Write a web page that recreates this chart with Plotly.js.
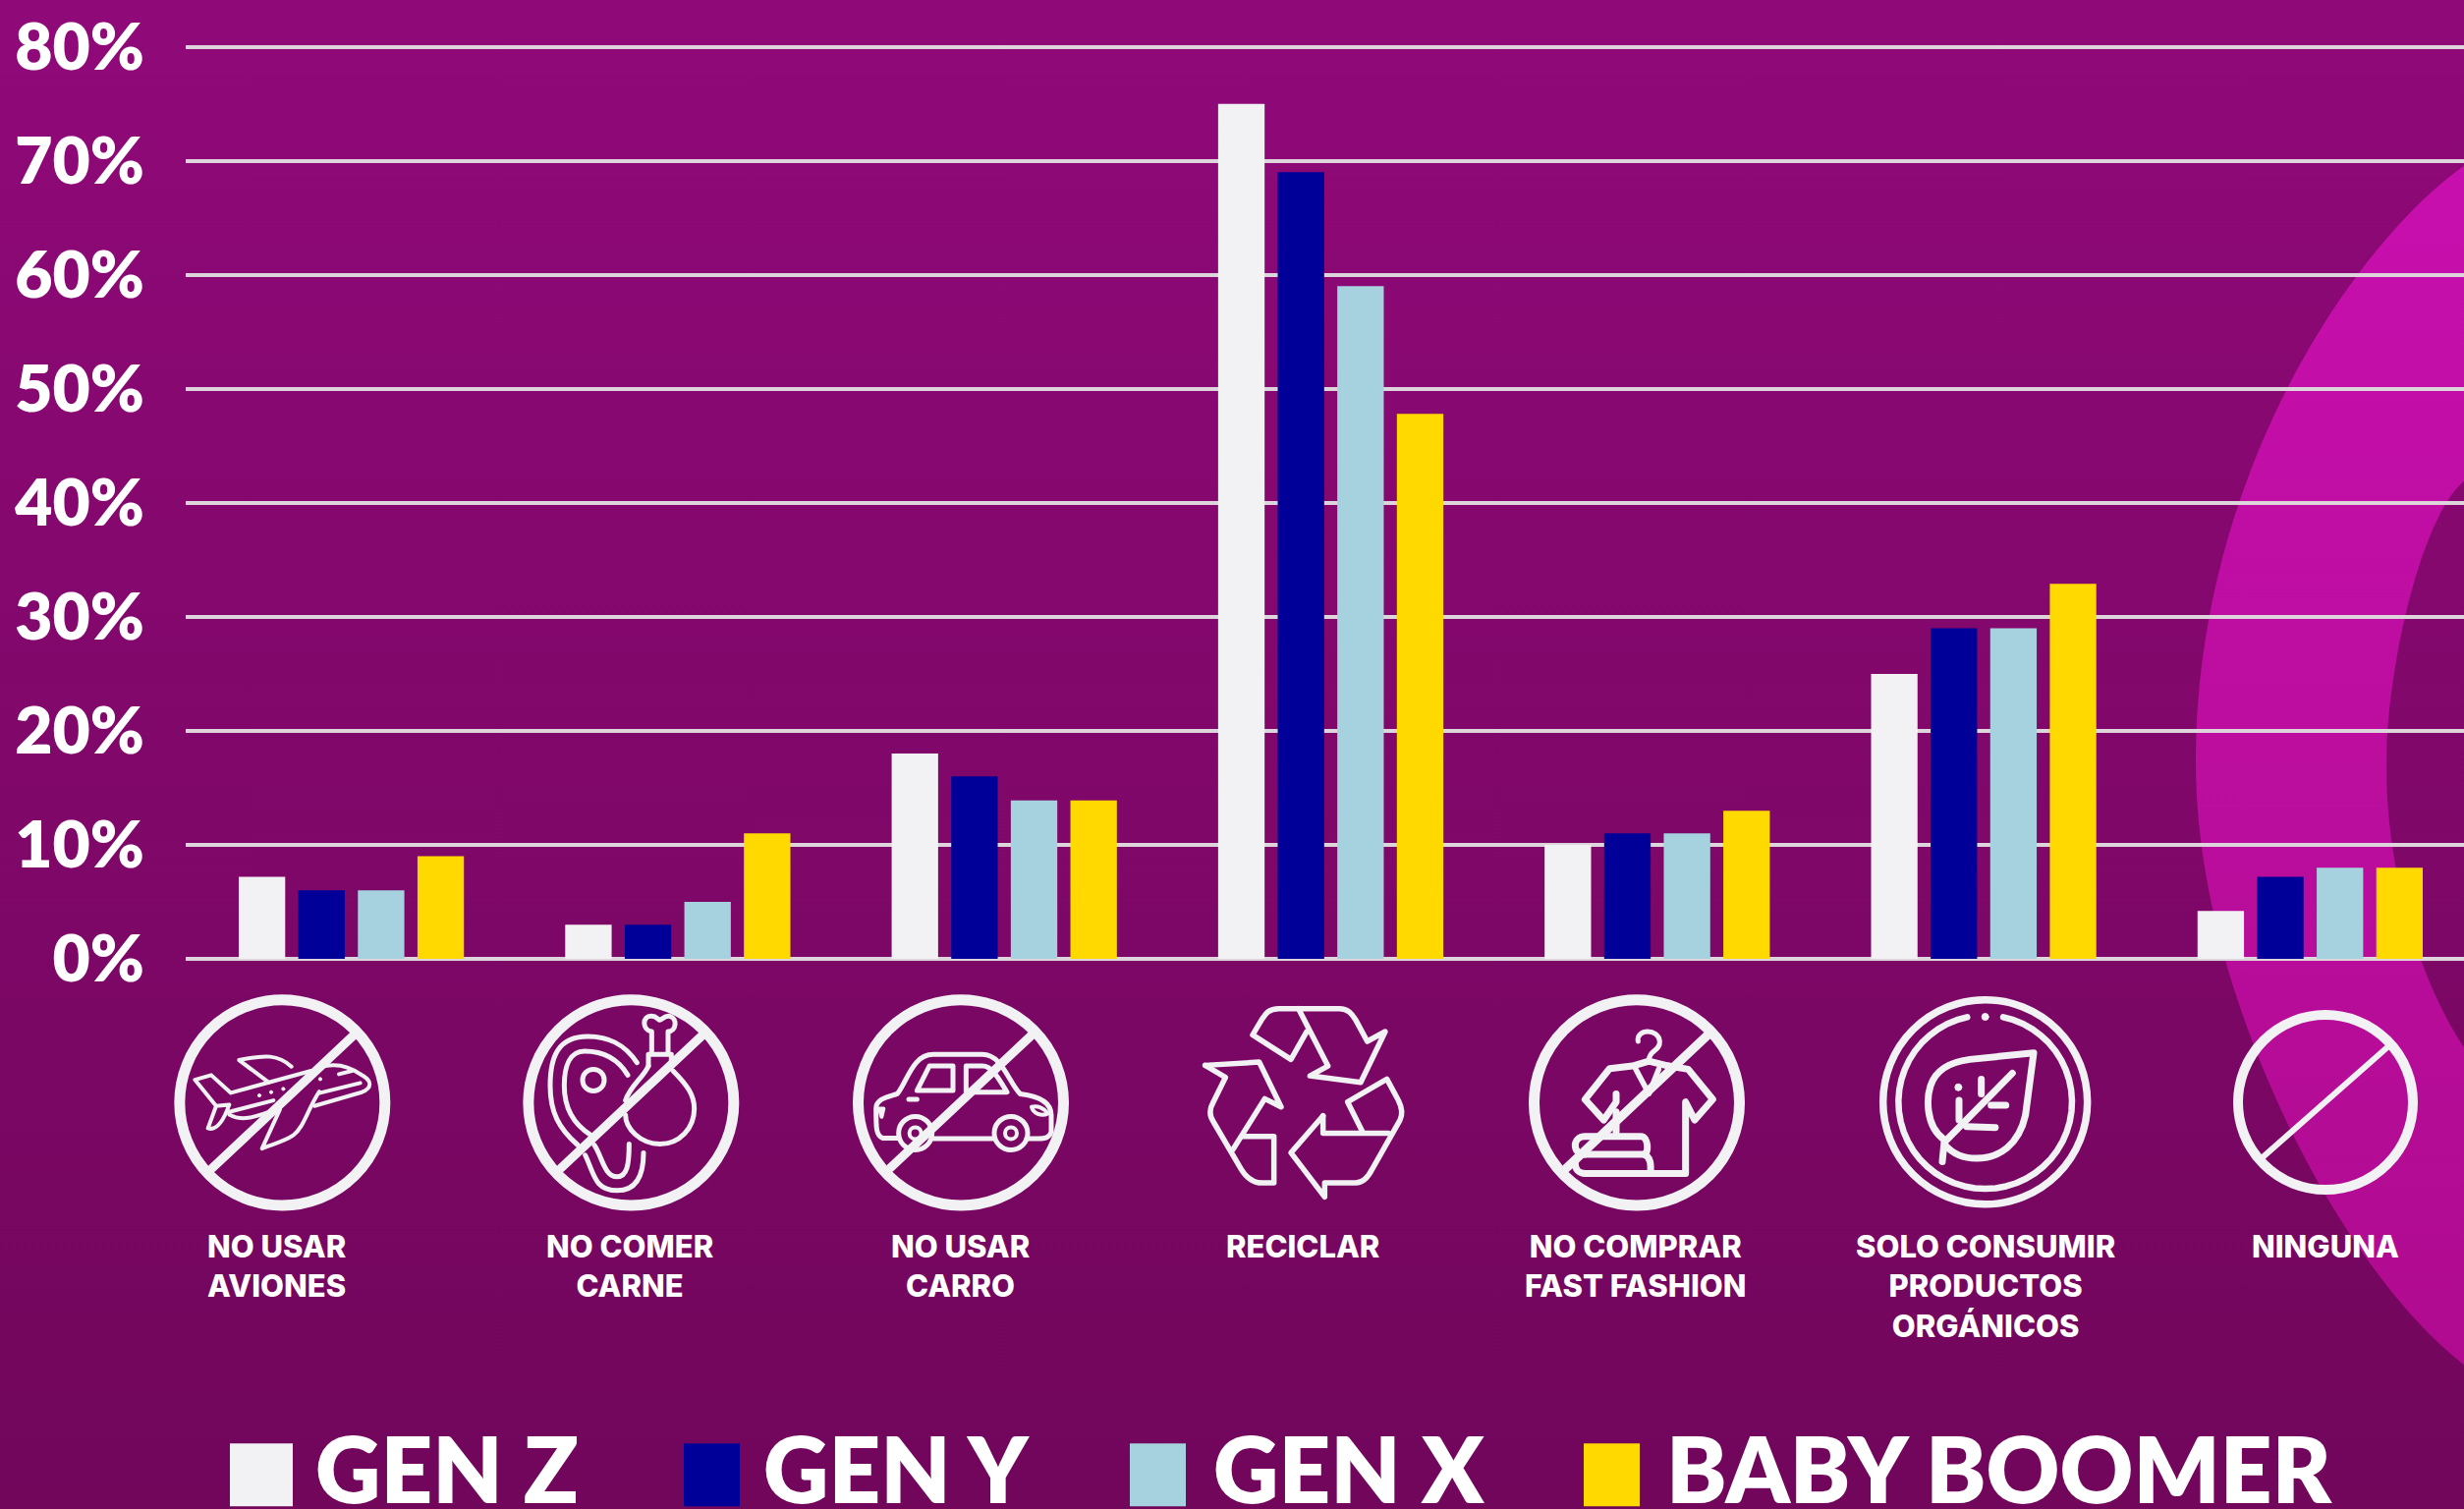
<!DOCTYPE html>
<html><head><meta charset="utf-8">
<script src="https://cdn.plot.ly/plotly-3.0.1.min.js"></script>
<style>
html,body{margin:0;padding:0;background:#7f0768;width:2508px;height:1536px;overflow:hidden}
#chart{width:2508px;height:1536px}
.shapelayer path{stroke-linejoin:round;stroke-linecap:round}
</style></head><body><div id="chart"></div>
<script>
const categories = ["NO USAR<br>AVIONES","NO COMER<br>CARNE","NO USAR<br>CARRO","RECICLAR","NO COMPRAR<br>FAST FASHION","SOLO CONSUMIR<br>PRODUCTOS<br>ORGÁNICOS","NINGUNA"];
const seriesNames = ["GEN Z","GEN Y","GEN X","BABY BOOMER"];
const seriesColors = ["#F2F2F4","#000099","#A5D2DE","#FFD900"];
const genZ = [7.2,3,18,75,10,25,4.2];
const genY = [6,3,16,69,11,29,7.2];
const genX = [6,5,13.9,59,11,29,8];
const babyBoomer = [9,11,13.9,47.8,13,32.9,8];
const yTicks = [0,10,20,30,40,50,60,70,80];
const yTickLabels = ["0%","10%","20%","30%","40%","50%","60%","70%","80%"];

const W=2508,H=1536,L=189,T=36.4,B=976,PW=W-L,PH=B-T;
const fx=x=>(x-L)/PW, fy=y=>(B-y)/PH;
const ICON="#F2F2F4";
const shapes=[], annotations=[];

function pen(ox,oy,d,w,fill){
  const p=d.replace(/(-?[\d.]+),(-?[\d.]+)/g,(m,a,b)=>fx(ox+a/3)+","+fy(oy+b/3));
  shapes.push({type:"path",xref:"paper",yref:"paper",layer:"above",path:p,
    line:{color:ICON,width:w},fillcolor:fill||"rgba(0,0,0,0)"});
}
function disc(ox,oy,cx,cy,r,w,filled){
  const X=ox+cx/3,Y=oy+cy/3;
  shapes.push({type:"circle",xref:"paper",yref:"paper",layer:"above",
    x0:fx(X-r),x1:fx(X+r),y0:fy(Y+r),y1:fy(Y-r),
    line:{color:ICON,width:w},fillcolor:filled?ICON:"rgba(0,0,0,0)"});
}
function arc(cx,cy,r,a0,a1){
  let s="";const n=48;
  for(let i=0;i<=n;i++){const a=(a0+(a1-a0)*i/n)*Math.PI/180;
    s+=(i?" L ":"M ")+(cx+r*Math.sin(a)).toFixed(1)+","+(cy-r*Math.cos(a)).toFixed(1);}
  return s;
}
const slash="M 568,148 L 138,552";

// plane
{const o=[170,1005];
 disc(...o,352,352,104.5,11);
 const w=4;
 pen(...o,"M 440,255 L 195,322 L 135,268 L 85,282 L 150,362 L 125,430 C 150,438 170,415 190,358 L 150,362",w);
 pen(...o,"M 190,388 C 225,408 260,402 345,368",w);
 pen(...o,"M 190,380 L 325,345",w);
 pen(...o,"M 450,250 C 510,225 555,240 590,265 C 630,285 625,308 595,320 L 450,362",w);
 pen(...o,"M 525,265 L 565,255",w);
 pen(...o,"M 468,322 L 590,292",w);
 pen(...o,"M 465,318 C 430,370 420,425 385,452 C 360,470 320,480 290,492 L 345,372",w);
 pen(...o,"M 380,242 C 340,205 300,205 220,222 L 310,290",w);
 [[282,330],[318,320],[355,310],[468,280]].forEach(c=>disc(...o,c[0],c[1],1.6,1,true));
 pen(...o,slash,9);
}
// meat
{const o=[525,1005];
 disc(...o,352,352,104.5,11);
 const w=5;
 pen(...o,"M 370,230 C 330,170 280,150 220,150 C 130,150 105,210 105,300 C 105,380 130,430 190,482",w);
 pen(...o,"M 212,512 C 240,570 240,620 310,620 C 370,620 390,570 390,505",w);
 pen(...o,"M 342,268 C 310,215 260,195 210,195 C 165,195 148,240 148,300 C 148,370 180,420 228,450",w);
 pen(...o,"M 240,482 C 265,520 270,578 310,578 C 340,578 346,540 346,478",w);
 disc(...o,237,283,11,5);
 pen(...o,"M 415,198 L 415,135 C 385,130 385,85 415,88 C 430,88 435,100 440,100 C 445,100 455,85 470,88 C 495,95 490,135 465,135 L 465,198",w);
 pen(...o,"M 405,240 L 405,205 L 475,205 L 475,225",w);
 pen(...o,"M 405,240 C 390,275 350,300 335,345",w);
 pen(...o,"M 480,255 C 525,300 545,330 545,370 C 545,430 500,478 440,478 C 380,478 335,430 335,390",w);
 pen(...o,slash,9);
}
// car
{const o=[860,1005];
 disc(...o,354,352,104.5,11);
 const w=5;
 pen(...o,"M 165,460 L 115,460 C 95,452 95,430 95,370 C 95,340 130,335 160,325 C 190,290 205,205 270,205 L 420,205 C 480,205 500,290 535,325 C 580,330 630,345 630,390 L 630,440 C 625,460 610,462 590,462 L 555,462",w);
 pen(...o,"M 270,462 L 450,462",w);
 disc(...o,215,445,17,5); disc(...o,215,445,6,4);
 disc(...o,507,445,17,5); disc(...o,507,445,6,4);
 pen(...o,"M 220,315 L 258,240 L 330,240 L 330,315 Z",w);
 pen(...o,"M 370,240 L 420,240 C 450,240 470,280 495,320 L 370,320 Z",w);
 pen(...o,"M 195,342 L 220,342",w);
 pen(...o,"M 105,370 L 118,370 L 112,395 Z",w-1);
 pen(...o,"M 570,365 C 590,360 610,370 620,385 C 600,395 575,385 570,365",w-1);
 pen(...o,slash,9);
}
// recycle
{const o=[1210,1005];
 const w=5.5;
 pen(...o,"M 335,65 L 460,65 C 490,65 500,85 510,100 L 545,165 L 600,135 L 525,290 L 370,270 L 425,240 L 335,65",w);
 pen(...o,"M 335,65 L 275,65 C 245,65 235,80 225,95 L 195,145 L 312,220 L 360,135",w);
 pen(...o,"M 50,238 L 215,228 L 282,365 L 232,340 L 135,495",w);
 pen(...o,"M 50,238 L 112,275 L 75,350 C 60,375 65,395 75,410 L 160,555 C 175,580 195,597 225,597 L 260,597 L 260,455 L 165,455",w);
 pen(...o,"M 410,392 L 312,505 L 415,640 L 415,597 L 510,597 C 535,597 550,575 560,555 L 645,405 C 655,385 650,365 640,345 L 605,280 L 485,350 L 530,440",w);
 pen(...o,"M 410,392 L 410,445 L 610,445",w);
}
// clothes
{const o=[1550,1005];
 disc(...o,348,352,104.5,11);
 const w=7;
 pen(...o,"M 352,165 C 345,125 415,125 418,165 C 420,195 385,190 385,225",5);
 pen(...o,"M 445,240 L 385,225 L 335,240 L 265,248 L 190,342 L 247,405 L 285,350 L 285,325",w);
 pen(...o,"M 445,240 L 505,250 L 580,342 L 525,405 L 497,350 L 497,568 L 190,568 C 150,568 150,510 190,510",w);
 pen(...o,"M 288,455 L 190,455 C 150,455 150,510 190,510 L 370,510 C 385,510 385,455 360,455 L 288,455",w);
 pen(...o,"M 370,510 C 395,520 390,550 390,568",w);
 pen(...o,"M 345,250 L 385,325 L 415,250",w-1.5);
 pen(...o,"M 285,380 L 285,440",w);
 pen(...o,"M 562,148 L 133,552",9);
}
// leaf
{const o=[1905,1005];
 disc(...o,347,350,104,7.5);
 pen(...o,arc(347,350,265,12,348),6.5);
 disc(...o,347,90,3.5,1,true);
 const w=7;
 pen(...o,"M 222,465 C 160,420 170,330 180,300 C 200,240 260,225 300,220 L 495,200 L 470,390 C 450,480 390,522 320,522 C 280,522 250,510 225,482",w);
 pen(...o,"M 225,470 L 430,262",w);
 pen(...o,"M 335,280 L 335,325",w);
 pen(...o,"M 365,360 L 410,360",w);
 pen(...o,"M 290,425 L 378,428",w);
 pen(...o,"M 267,345 L 267,405",w);
 pen(...o,"M 222,470 L 216,532",w);
 disc(...o,265,305,3.5,1,true);
}
// ninguna
disc(0,0,2367*3,1122*3,89,10);
pen(0,0,`M ${2430*3},${1066*3} L ${2303*3},${1178*3}`,6);

// category labels
const labelX=[281,641,977,1326,1665,2021,2367];
categories.forEach((c,i)=>annotations.push({xref:"paper",yref:"paper",x:fx(labelX[i]),y:fy(1248),
  text:c,showarrow:false,xanchor:"center",yanchor:"top",align:"center",
  font:{family:"Inter, Open Sans, sans-serif",size:31,color:"#FFFFFF",weight:800}}));

// legend
const swatch=[[234,298],[696,753],[1150,1207],[1612,1669]];
const legendTextX=[319,775,1233,1694];
seriesNames.forEach((n,i)=>{
  shapes.push({type:"rect",xref:"paper",yref:"paper",layer:"above",x0:fx(swatch[i][0]),x1:fx(swatch[i][1]),
    y0:fy(1533),y1:fy(1469),line:{width:0},fillcolor:seriesColors[i]});
  annotations.push({xref:"paper",yref:"paper",x:fx(legendTextX[i]),y:fy(1494),text:n,showarrow:false,
    xanchor:"left",yanchor:"middle",
    font:{family:"Lato, sans-serif",size:92,color:"#FFFFFF",weight:800}});
});

const bgSvg=`<svg xmlns="http://www.w3.org/2000/svg" width="${W}" height="${H}" viewBox="0 0 ${W} ${H}"><defs>
<linearGradient id="a" x1="0" y1="0" x2="0" y2="1"><stop offset="0" stop-color="#900979"/><stop offset="1" stop-color="#71065b"/></linearGradient>
<linearGradient id="b" x1="0" y1="0" x2="0" y2="1"><stop offset="0" stop-color="#c70fad"/><stop offset="1" stop-color="#b00b90"/></linearGradient></defs>
<rect width="${W}" height="${H}" fill="url(#a)"/>
<path fill="url(#b)" d="M2508,169 C2400,245 2235,480 2235,776 C2235,1010 2380,1290 2508,1389 L2508,1066 C2470,1010 2429,900 2429,780 C2429,680 2465,525 2508,490 Z"/></svg>`;

const traces=[genZ,genY,genX,babyBoomer].map((v,i)=>({type:"bar",name:seriesNames[i],x:categories,y:v,
  marker:{color:seriesColors[i],line:{width:0}},hoverinfo:"x+y"}));

const x0=357.6, pitch=332.3;
Plotly.newPlot("chart",traces,{
  width:W,height:H,
  margin:{l:L,r:0,t:T,b:H-B,pad:0},
  paper_bgcolor:"rgba(0,0,0,0)",plot_bgcolor:"rgba(0,0,0,0)",
  barmode:"group",bargap:0.27,bargroupgap:0.22,showlegend:false,
  xaxis:{type:"category",range:[(L-x0)/pitch,(W-x0)/pitch],showticklabels:false,showgrid:false,zeroline:false,showline:false,ticks:""},
  yaxis:{range:[0,81],tickvals:yTicks,ticktext:yTickLabels,showgrid:true,gridcolor:"#DDD5DB",gridwidth:4,
    zeroline:true,zerolinecolor:"#DDD5DB",zerolinewidth:4,showline:false,ticks:"",ticklabelstandoff:41,
    tickfont:{family:"Lato, sans-serif",size:66,color:"#FFFFFF",weight:800}},
  images:[{source:"data:image/svg+xml;charset=utf-8,"+encodeURIComponent(bgSvg),xref:"paper",yref:"paper",
    x:fx(0),y:fy(0),sizex:W/PW,sizey:H/PH,sizing:"stretch",xanchor:"left",yanchor:"top",layer:"below"}],
  shapes,annotations
},{displayModeBar:false,staticPlot:true});
</script></body></html>
